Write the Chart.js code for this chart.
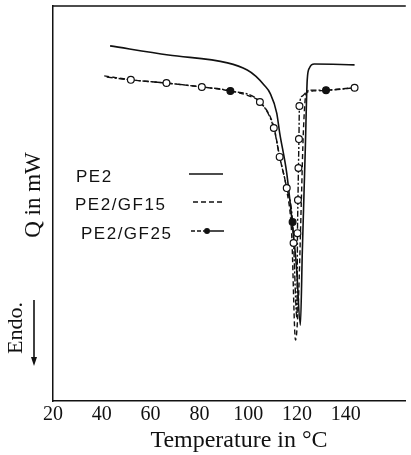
<!DOCTYPE html>
<html>
<head>
<meta charset="utf-8">
<script src="https://cdn.jsdelivr.net/npm/chart.js@4.4.1/dist/chart.umd.min.js"></script>
<style>
  html, body { margin: 0; padding: 0; background: #fff; }
  #wrap { width: 411px; height: 455px; position: relative; }
</style>
</head>
<body>
<div id="wrap"><canvas id="dsc"></canvas></div>
<script>
// ==========================
// DATA (Q in arbitrary units, 0 = bottom of frame)
// ==========================
const xTicks = [20, 40, 60, 80, 100, 120, 140];

const pe2T = [43.4, 67.3, 91.5, 99.6, 103.2, 106.5, 109.0, 111.7, 112.9, 115.8, 117.8, 119.8, 121.4, 122.2, 123.4, 124.2, 125.1, 127.1, 143.6];
const pe2Q = [89.9, 87.6, 85.6, 83.8, 82.2, 80.0, 77.9, 72.9, 67.9, 57.7, 46.6, 33.9, 19.2, 38.2, 63.6, 81.3, 84.3, 85.3, 85.1];

const gf15T = [41.0, 52.3, 66.1, 81.0, 92.7, 100.0, 104.8, 110.5, 112.9, 115.8, 117.8, 119.4, 120.6, 121.8, 122.6, 123.8, 126.7, 143.6];
const gf15Q = [82.3, 81.3, 80.5, 79.5, 78.5, 77.3, 75.7, 69.4, 61.8, 53.4, 42.5, 15.4, 25.6, 50.9, 67.9, 78.0, 78.5, 79.3];

const gf25T = [42.0, 51.9, 66.5, 81.0, 92.7, 104.8, 110.5, 112.9, 115.8, 118.2, 118.6, 120.0, 120.2, 120.4, 120.6, 120.8, 121.0, 122.2, 125.1, 131.9, 143.6];
const gf25Q = [82.0, 81.3, 80.5, 79.5, 78.5, 75.7, 69.1, 61.8, 53.9, 45.3, 40.0, 21.0, 42.5, 50.9, 59.0, 66.3, 74.7, 77.2, 78.7, 78.7, 79.3];
// which GF25 points carry a circle, and which of those are filled
const gf25Marked = [1, 2, 3, 4, 5, 6, 7, 8, 9, 10, 12, 13, 14, 15, 16, 19, 20];
const gf25Filled = [4, 9, 19];

const seriesNames = ["PE2", "PE2/GF15", "PE2/GF25"];

const toPts = (xs, ys) => xs.map((x, i) => ({ x: x, y: ys[i] }));

// ==========================
// DECORATION: frame top, legend, axis titles
// ==========================
const decor = {
  id: "decor",
  afterDraw(chart) {
    const c = chart.ctx;
    const a = chart.chartArea;
    c.save();
    c.strokeStyle = "#111";
    c.fillStyle = "#111";

    // top edge of frame
    c.lineWidth = 1.3;
    c.beginPath();
    c.moveTo(a.left, a.top);
    c.lineTo(a.right, a.top);
    c.stroke();

    // legend
    c.font = "17px 'Liberation Sans'";
    c.letterSpacing = "1.5px";
    c.textBaseline = "alphabetic";
    c.textAlign = "left";
    c.fillText(seriesNames[0], 76, 182);
    c.fillText(seriesNames[1], 75, 210);
    c.fillText(seriesNames[2], 81, 239);
    c.letterSpacing = "0px";

    c.lineWidth = 1.5;
    c.beginPath();
    c.moveTo(189, 174); c.lineTo(223, 174);
    c.stroke();

    c.setLineDash([5, 3]);
    c.beginPath();
    c.moveTo(193, 202); c.lineTo(223, 202);
    c.stroke();

    c.setLineDash([4, 2]);
    c.beginPath();
    c.moveTo(191, 231); c.lineTo(204, 231);
    c.stroke();
    c.setLineDash([]);
    c.beginPath();
    c.moveTo(210, 231); c.lineTo(224, 231);
    c.stroke();
    c.lineWidth = 1.2;
    c.beginPath();
    c.arc(207, 231, 3, 0, Math.PI * 2);
    c.fill();

    // x title
    c.font = "24px 'Liberation Serif'";
    c.textAlign = "center";
    c.fillText("Temperature in \u00B0C", 239, 447);

    // y title
    c.save();
    c.translate(40, 195);
    c.rotate(-Math.PI / 2);
    c.font = "23px 'Liberation Serif'";
    c.fillText("Q in mW", 0, 0);
    c.restore();

    c.save();
    c.translate(22, 328);
    c.rotate(-Math.PI / 2);
    c.font = "22px 'Liberation Serif'";
    c.fillText("Endo.", 0, 0);
    c.restore();

    // endo arrow
    c.lineWidth = 1.6;
    c.beginPath();
    c.moveTo(34, 300); c.lineTo(34, 360);
    c.stroke();
    c.beginPath();
    c.moveTo(31, 357); c.lineTo(34, 366); c.lineTo(37, 357);
    c.closePath();
    c.fill();

    c.restore();
  }
};

// ==========================
// CHART
// ==========================
const ctx = document.getElementById("dsc").getContext("2d");
new Chart(ctx, {
  type: "line",
  data: {
    datasets: [
      {
        label: seriesNames[2],
        data: toPts(gf25T, gf25Q),
        borderColor: "#111",
        borderWidth: 1.4,
        borderDash: [6, 2, 2, 2],
        cubicInterpolationMode: "monotone",
        pointRadius: c => gf25Marked.includes(c.dataIndex) ? 3.4 : 0,
        pointBackgroundColor: c => gf25Filled.includes(c.dataIndex) ? "#111" : "#fff",
        pointBorderColor: "#111",
        pointBorderWidth: 1.2,
        fill: false
      },
      {
        label: seriesNames[1],
        data: toPts(gf15T, gf15Q),
        borderColor: "#111",
        borderWidth: 1.4,
        borderDash: [5, 3],
        cubicInterpolationMode: "monotone",
        pointRadius: 0,
        fill: false
      },
      {
        label: seriesNames[0],
        data: toPts(pe2T, pe2Q),
        borderColor: "#111",
        borderWidth: 1.6,
        cubicInterpolationMode: "monotone",
        pointRadius: 0,
        fill: false
      }
    ]
  },
  options: {
    responsive: true,
    maintainAspectRatio: false,
    animation: false,
    layout: { padding: { left: 53, right: 0, top: 6, bottom: 28 } },
    plugins: { legend: { display: false }, tooltip: { enabled: false } },
    scales: {
      x: {
        type: "linear",
        min: 20,
        max: 164.6,
        afterBuildTicks: s => { s.ticks = xTicks.map(v => ({ value: v })); },
        afterFit: s => { s.height = 26; },
        grid: { display: true, drawOnChartArea: false, drawTicks: false },
        border: { display: true, color: "#111", width: 1.5 },
        ticks: {
          padding: 2,
          color: "#111",
          font: { family: "'Liberation Serif'", size: 20 },
          maxRotation: 0
        }
      },
      y: {
        type: "linear",
        min: 0,
        max: 100,
        afterFit: s => { s.width = 0; },
        grid: { display: false },
        border: { display: true, color: "#111", width: 1.5 },
        ticks: { display: false }
      }
    }
  },
  plugins: [decor]
});
</script>
</body>
</html>
